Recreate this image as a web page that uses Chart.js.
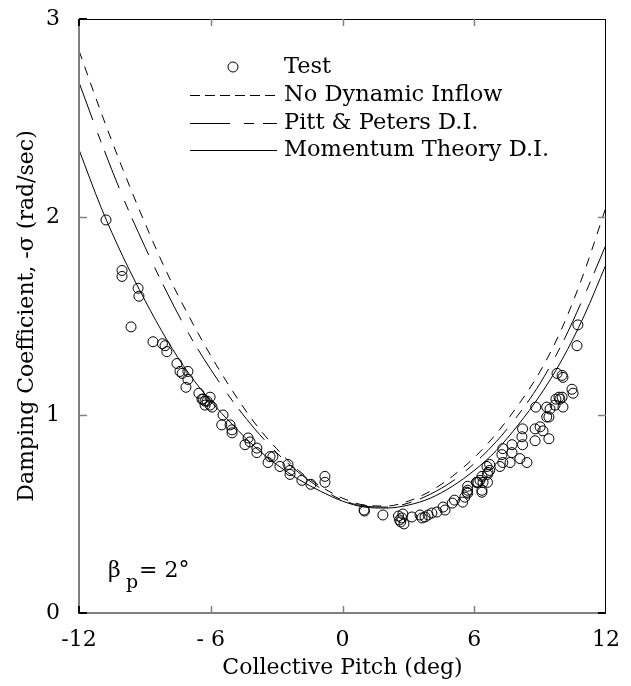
<!DOCTYPE html>
<html>
<head>
<meta charset="utf-8">
<script src="https://cdn.jsdelivr.net/npm/chart.js@4/dist/chart.umd.min.js"></script>
<style>
  html, body { margin: 0; padding: 0; background: #fff; }
  #wrap { width: 631px; height: 686px; }
</style>
</head>
<body>
<div id="wrap"><canvas id="c" width="631" height="686"></canvas></div>
<script>
// ---------- data ----------
const testPitch = [
  -10.77, -10.04, -10.04, -9.31, -9.27, -9.63, -8.63, -8.2, -8.08, -8.0,
  -7.54, -7.4, -7.3, -7.04, -7.04, -7.13, -6.54, -6.4, -6.26, -6.03,
  -5.94, -6.35, -6.17, -6.03, -6.26, -5.44, -5.5, -5.12, -5.03, -5.03,
  -4.3, -4.21, -4.44, -3.9, -3.9, -3.3, -3.17, -3.39, -2.85, -2.48,
  -2.39, -2.39, -1.85, -1.44, -0.8, -0.8,
  0.98, 1.0, 1.84, 2.55, 2.65, 2.7, 2.8, 2.6, 2.75, 3.16,
  3.53, 3.62, 3.76, 3.9, 4.07, 4.3, 4.58, 4.67, 5.0, 5.1,
  5.47, 5.57, 5.7, 5.7, 6.1, 6.26, 6.4, 6.35, 6.58, 6.63,
  5.67, 5.7, 6.35, 6.6, 6.12, 6.17, 6.35, 6.6, 6.7, 6.7, 7.17,
  7.3, 7.72, 7.26, 7.72, 7.3, 7.63, 8.08, 8.4,
  8.2, 8.17, 8.2, 8.77, 9.0, 8.77, 9.13, 9.4,
  9.86, 10.0, 9.72, 9.9, 10.04, 9.68, 9.45, 9.4, 9.3, 8.8, 9.3,
  10.45, 10.5, 9.77, 10.0, 10.04, 10.72, 10.68
];
const testSigma = [
  1.985, 1.73, 1.70, 1.64, 1.60, 1.445, 1.37, 1.36, 1.35, 1.32,
  1.26, 1.22, 1.21, 1.22, 1.18, 1.14, 1.11, 1.08, 1.07, 1.09,
  1.04, 1.08, 1.07, 1.05, 1.05, 1.0, 0.95, 0.95, 0.925, 0.91,
  0.884, 0.864, 0.85, 0.833, 0.81, 0.79, 0.79, 0.76, 0.74, 0.75,
  0.72, 0.70, 0.67, 0.65, 0.69, 0.66,
  0.52, 0.515, 0.495, 0.49, 0.46, 0.48, 0.45, 0.47, 0.50, 0.485,
  0.495, 0.48, 0.485, 0.495, 0.505, 0.51, 0.535, 0.52, 0.555, 0.57,
  0.56, 0.585, 0.62, 0.605, 0.66, 0.67, 0.66, 0.62, 0.74, 0.71,
  0.61, 0.64, 0.61, 0.66, 0.66, 0.66, 0.69, 0.70, 0.72, 0.75, 0.74,
  0.83, 0.85, 0.80, 0.81, 0.76, 0.76, 0.78, 0.76,
  0.93, 0.89, 0.85, 0.93, 0.94, 0.87, 0.92, 0.88,
  1.09, 1.09, 1.08, 1.08, 1.04, 1.05, 1.03, 0.99, 0.99, 1.04, 1.04,
  1.13, 1.11, 1.21, 1.20, 1.19, 1.455, 1.35
];
const curvePitch = [-12,-11,-10,-9,-8,-7,-6,-5,-4,-3,-2,-1,0,1,2,3,4,5,6,7,8,9,10,11,12];
const noDynamicInflow = [2.84,2.53,2.24,1.97,1.72,1.50,1.30,1.12,0.96,0.83,0.72,0.64,0.58,0.545,0.54,0.565,0.615,0.69,0.785,0.905,1.05,1.22,1.44,1.72,2.05];
const pittPeters      = [2.68,2.38,2.10,1.85,1.62,1.41,1.23,1.07,0.93,0.81,0.71,0.63,0.57,0.54,0.535,0.555,0.60,0.665,0.755,0.865,1.00,1.16,1.36,1.60,1.86];
const momentumTheory  = [2.34,2.05,1.80,1.58,1.38,1.21,1.07,0.95,0.84,0.75,0.675,0.615,0.565,0.535,0.53,0.545,0.58,0.64,0.72,0.82,0.95,1.10,1.28,1.50,1.76];
const xTickValues = [-12, -6, 0, 6, 12];
const xTickLabels = ['-12', '- 6', '0', '6', '12'];
const yTickValues = [0, 1, 2, 3];
const seriesNames = ['Test', 'No Dynamic Inflow', 'Pitt & Peters D.I.', 'Momentum Theory D.I.'];

// ---------- build ----------
const FONT = '"DejaVu Serif", "Liberation Serif", serif';
const pts = (xs, ys) => xs.map((v, i) => ({ x: v, y: ys[i] }));

const lineDs = (label, ys, dash, legendDash) => ({
  label, data: pts(curvePitch, ys), showLine: true, borderColor: '#000',
  borderWidth: 1, borderDash: dash, legendDash: legendDash, pointRadius: 0, fill: false,
  cubicInterpolationMode: 'monotone'
});

const noPad = s => { s.paddingLeft = 0; s.paddingRight = 0; s.paddingTop = 0; s.paddingBottom = 0; };

const framePlugin = {
  id: 'frame',
  afterDatasetsDraw(chart) {
    const { ctx, chartArea: { left, right, top, bottom }, scales: { x, y } } = chart;
    const gray = '#808080';
    const seg = (x1, y1, x2, y2) => { ctx.beginPath(); ctx.moveTo(x1, y1); ctx.lineTo(x2, y2); ctx.stroke(); };
    ctx.save();
    ctx.strokeStyle = '#000'; ctx.lineWidth = 1;
    seg(left, top + 0.5, right, top + 0.5);
    seg(right - 0.5, top, right - 0.5, bottom);
    ctx.strokeStyle = gray; ctx.lineWidth = 2;
    seg(left, top, left, bottom + 1);
    seg(left - 1, bottom, right, bottom);
    ctx.lineWidth = 1.5;
    [-6, 0, 6].forEach(v => {
      const px = Math.round(x.getPixelForValue(v)) + 0.5;
      seg(px, bottom, px, bottom - 7);
      seg(px, top, px, top + 7);
    });
    [1, 2].forEach(v => {
      const py = Math.round(y.getPixelForValue(v)) + 0.5;
      seg(left, py, left + 8, py);
      seg(right, py, right - 8, py);
    });
    ctx.strokeStyle = '#000'; ctx.lineWidth = 2;
    seg(left, bottom, left + 8, bottom); seg(left, bottom, left, bottom - 7);
    seg(left, top, left + 8, top); seg(left, top, left, top + 7);
    seg(right, bottom, right - 8, bottom);
    ctx.restore();
  },
  afterDraw(chart) {
    const { ctx } = chart;
    ctx.save();
    ctx.fillStyle = '#000'; ctx.strokeStyle = '#000';
    ctx.font = '22.5px ' + FONT;
    ctx.textBaseline = 'middle'; ctx.textAlign = 'left';
    const rows = [67, 95, 123, 150];
    const ds = chart.data.datasets;
    ctx.lineWidth = 1;
    ctx.beginPath(); ctx.arc(233, rows[0], 5, 0, Math.PI * 2); ctx.stroke();
    for (let i = 1; i < 4; i++) {
      ctx.setLineDash(ds[i].legendDash || []);
      ctx.beginPath(); ctx.moveTo(190, rows[i] + 0.5); ctx.lineTo(277, rows[i] + 0.5); ctx.stroke();
    }
    ctx.setLineDash([]);
    for (let i = 0; i < 4; i++) ctx.fillText(seriesNames[i], 284, rows[i]);
    // beta annotation
    ctx.textBaseline = 'alphabetic';
    ctx.font = '22px ' + FONT;
    ctx.fillText('β', 108, 577);
    ctx.font = '19px ' + FONT;
    ctx.fillText('p', 126, 588);
    ctx.font = '22px ' + FONT;
    ctx.fillText('= 2°', 139, 577);
    ctx.restore();
  }
};

new Chart(document.getElementById('c'), {
  type: 'scatter',
  data: {
    datasets: [
      { label: seriesNames[0], data: pts(testPitch, testSigma), pointStyle: 'circle', pointRadius: 5,
        pointBorderWidth: 1, pointBorderColor: '#000', pointBackgroundColor: 'rgba(0,0,0,0)', showLine: false },
      lineDs(seriesNames[1], noDynamicInflow, [9, 8], [10, 5]),
      lineDs(seriesNames[2], pittPeters, [40, 14, 10, 9], [40, 14, 10, 9]),
      lineDs(seriesNames[3], momentumTheory, [], [])
    ]
  },
  options: {
    responsive: false, animation: false, devicePixelRatio: 1,
    layout: { padding: { top: 19, right: 25, left: 0, bottom: 0 } },
    plugins: { legend: { display: false }, tooltip: { enabled: false } },
    scales: {
      x: {
        type: 'linear', min: -12, max: 12,
        grid: { display: false, drawTicks: false }, border: { display: false },
        afterBuildTicks: s => { s.ticks = xTickValues.map(v => ({ value: v })); },
        afterFit: s => { s.height = 73; noPad(s); },
        ticks: { color: '#000', font: { family: FONT, size: 22 }, padding: 14, maxRotation: 0,
          callback: v => xTickLabels[xTickValues.indexOf(v)] },
        title: { display: true, text: 'Collective Pitch (deg)', color: '#000',
          font: { family: FONT, size: 22 }, padding: { top: 0, bottom: 5 } }
      },
      y: {
        type: 'linear', min: 0, max: 3,
        grid: { display: false, drawTicks: false }, border: { display: false },
        afterBuildTicks: s => { s.ticks = yTickValues.map(v => ({ value: v })); },
        afterFit: s => { s.width = 79; noPad(s); },
        ticks: { color: '#000', font: { family: FONT, size: 22 }, padding: 19 },
        title: { display: true, text: 'Damping Coefficient, -σ (rad/sec)', color: '#000',
          font: { family: FONT, size: 22 }, padding: { top: 14, bottom: 0 } }
      }
    }
  },
  plugins: [framePlugin]
});
</script>
</body>
</html>
